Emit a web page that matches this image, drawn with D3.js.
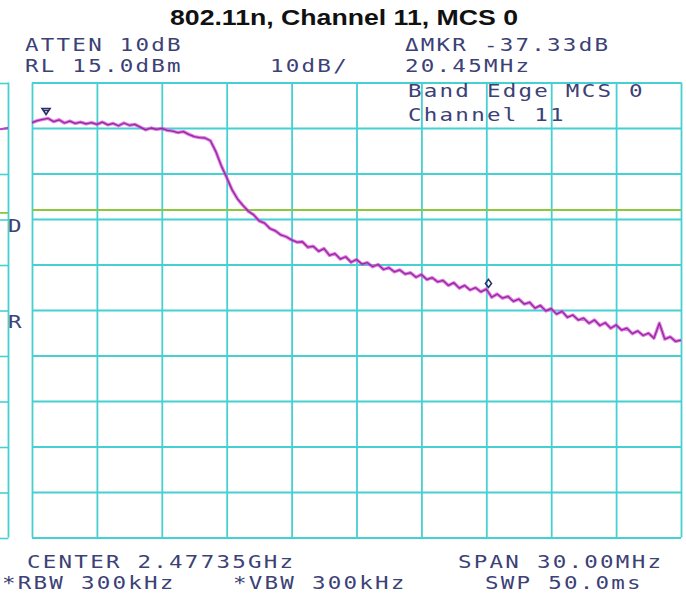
<!DOCTYPE html>
<html>
<head>
<meta charset="utf-8">
<script src="https://cdn.jsdelivr.net/npm/d3@7"></script>
<style>
  html, body { margin: 0; padding: 0; background: #ffffff; }
  svg { display: block; }
</style>
</head>
<body>
<svg id="chart" width="686" height="596"></svg>
<script>
// Spectrum analyser settings
const centerMHz = 2477.35;
const spanMHz = 30;
const refLevel = 15;        // dBm at top graticule line
const dbPerDiv = 10;
const divisions = 10;
const displayLine = -13;    // dBm

// Trace: frequency start/step (MHz) and level (dBm) per point
const traceStart = 2462.35;
const traceStep = 0.25;
const traceLevels = [
  6.2, 6.6, 6.9, 7.1, 6.4, 6.8, 6.1, 6.5, 6.0, 6.3,
  5.9, 6.2, 5.8, 6.3, 5.7, 6.0, 5.5, 6.1, 5.6, 5.8,
  5.2, 4.6, 5.0, 4.7, 4.9, 4.5, 4.3, 4.0, 4.2, 3.6,
  3.1, 2.9, 2.8, 2.2, -0.2, -3.3, -5.9, -8.6, -10.6, -12.0,
  -13.3, -14.1, -15.4, -15.9, -17.1, -17.6, -18.5, -18.9, -19.6, -20.1,
  -20.0, -21.2, -21.0, -22.1, -21.5, -23.0, -22.6, -23.8, -23.3, -24.5,
  -23.9, -24.9, -24.6, -25.5, -25.0, -26.1, -25.7, -26.6, -26.2, -27.1,
  -26.8, -27.8, -27.2, -28.3, -27.9, -28.8, -28.5, -29.6, -29.0, -30.2,
  -29.6, -30.6, -30.1, -31.0, -30.4, -32.2, -31.5, -32.4, -32.0, -33.1,
  -32.6, -33.7, -33.3, -34.6, -34.0, -35.2, -34.7, -35.9, -35.3, -36.6,
  -36.1, -37.2, -36.8, -37.9, -37.2, -38.4, -37.8, -39.0, -38.3, -39.4,
  -39.0, -40.2, -39.6, -40.6, -40.1, -41.2, -37.9, -41.4, -40.9, -41.9,
  -41.6
];

// Markers (MHz, dBm)
const markerFreqs = [2463.00, 2483.45];
const markerLevels = [7.3, -30.03];

// Tail of the neighbouring screen at the far left (dBm)
const prevTailLevels = [5.6, 5.9];

// Annotation texts
const title = "802.11n, Channel 11, MCS 0";
const headerTexts = ["ATTEN 10dB", "RL 15.0dBm", "10dB/", "\u0394MKR -37.33dB", "20.45MHz"];
const labelTexts = ["Band Edge MCS 0", "Channel 11"];
const footerTexts = ["CENTER 2.47735GHz", "SPAN 30.00MHz", "*RBW 300kHz", "*VBW 300kHz", "SWP 50.0ms"];
const sideTexts = ["D", "R"];

const svg = d3.select("#chart");
const gridColor = "#46d0d2";
const textColor = "#3c4176";

const plotL = 32, plotR = 681, plotT = 82.5, plotB = 537.5;
const x = d3.scaleLinear()
  .domain([centerMHz - spanMHz / 2, centerMHz + spanMHz / 2])
  .range([plotL, plotR]);
const y = d3.scaleLinear()
  .domain([refLevel, refLevel - dbPerDiv * divisions])
  .range([plotT, plotB]);

const freqGrid = d3.range(divisions + 1).map(i => x.domain()[0] + i * spanMHz / divisions);
const levelGrid = d3.range(divisions + 1).map(i => refLevel - i * dbPerDiv);

// Title
svg.append("text")
  .attr("x", 170).attr("y", 25)
  .attr("textLength", 348).attr("lengthAdjust", "spacingAndGlyphs")
  .style("font-family", "'Liberation Sans', Arial, sans-serif")
  .style("font-weight", "bold").style("font-size", "22px")
  .attr("fill", "#111")
  .text(title);

// Neighbouring screen strip at the far left
const strip = svg.append("g");
const xStrip = d3.scaleLinear().domain([0, prevTailLevels.length - 1]).range([0, 8]);
strip.selectAll("line.h").data(levelGrid).join("line")
  .attr("x1", 0).attr("x2", 8.5)
  .attr("y1", d => y(d) + 1).attr("y2", d => y(d) + 1)
  .attr("stroke", gridColor).attr("stroke-width", 1.6);
strip.append("line")
  .attr("x1", 0).attr("x2", 8.5)
  .attr("y1", y(displayLine) + 3).attr("y2", y(displayLine) + 3)
  .attr("stroke", "#8cc83e").attr("stroke-width", 1.8);
strip.append("line")
  .attr("x1", 8.5).attr("x2", 8.5).attr("y1", plotT).attr("y2", plotB)
  .attr("stroke", gridColor).attr("stroke-width", 1.8);
strip.append("path")
  .datum(prevTailLevels)
  .attr("d", d3.line().x((d, i) => xStrip(i)).y(d => y(d) + 4))
  .attr("fill", "none").attr("stroke", "#c040c8").attr("stroke-width", 2.2);

// Graticule
const grid = svg.append("g");
grid.append("g")
  .attr("transform", `translate(0,${plotB})`)
  .call(d3.axisBottom(x).tickValues(freqGrid).tickSizeOuter(0).tickFormat(""))
  .call(g => g.select(".domain").remove())
  .call(g => g.selectAll("line")
    .attr("y2", -(plotB - plotT)).attr("stroke", gridColor).attr("stroke-width", 1.8));
grid.append("g")
  .attr("transform", `translate(${plotL},0)`)
  .call(d3.axisLeft(y).tickValues(levelGrid).tickSizeOuter(0).tickFormat(""))
  .call(g => g.select(".domain").remove())
  .call(g => g.selectAll("line")
    .attr("x2", plotR - plotL).attr("stroke", gridColor).attr("stroke-width", 1.8));

// Display line
svg.append("line")
  .attr("x1", plotL).attr("x2", plotR)
  .attr("y1", y(displayLine)).attr("y2", y(displayLine))
  .attr("stroke", "#8cc83e").attr("stroke-width", 2);

// Trace
const traceData = traceLevels.map((v, i) => ({ f: traceStart + i * traceStep, v }));
const line = d3.line().x(d => x(d.f)).y(d => y(d.v));
svg.append("path").datum(traceData)
  .attr("d", line).attr("fill", "none")
  .attr("stroke", "#e24ae0").attr("stroke-width", 3.4).attr("stroke-opacity", 0.75)
  .attr("stroke-linejoin", "round");
svg.append("path").datum(traceData)
  .attr("d", line).attr("fill", "none")
  .attr("stroke", "#8a2f98").attr("stroke-width", 1.3)
  .attr("stroke-linejoin", "round");

// Markers
const mk = svg.append("g").attr("fill", "none").attr("stroke", "#2a2f6a").attr("stroke-width", 1.6);
mk.append("path")
  .attr("d", () => {
    const cx = x(markerFreqs[0]), cy = y(markerLevels[0]) - 3;
    return `M${cx - 4},${cy - 6}L${cx + 4},${cy - 6}L${cx},${cy}Z M${cx - 2},${cy - 4}L${cx + 2},${cy - 4}`;
  });
mk.append("path")
  .attr("d", () => {
    const cx = x(markerFreqs[1]), cy = y(markerLevels[1]) - 4;
    return `M${cx},${cy - 4}L${cx + 3},${cy}L${cx},${cy + 4}L${cx - 3},${cy}Z`;
  });

// Analyser-style text, widened monospace
const sx = 1.25;
function analyserText(str, px, baseline) {
  svg.append("text")
    .attr("transform", `scale(${sx},1)`)
    .attr("x", px / sx).attr("y", baseline)
    .style("font-family", "'DejaVu Sans Mono', monospace")
    .style("font-size", "18px")
    .style("letter-spacing", "1.8px")
    .attr("fill", textColor)
    .text(str);
}
analyserText(headerTexts[0], 25, 51);
analyserText(headerTexts[1], 25, 72);
analyserText(headerTexts[2], 270, 72);
analyserText(headerTexts[3], 405, 51);
analyserText(headerTexts[4], 405, 72);
analyserText(labelTexts[0], 408, 97);
analyserText(labelTexts[1], 408, 121);
analyserText(footerTexts[0], 27, 568);
analyserText(footerTexts[1], 458, 568);
analyserText(footerTexts[2], 2, 589);
analyserText(footerTexts[3], 233, 589);
analyserText(footerTexts[4], 485, 589);
analyserText(sideTexts[0], 8, 232);
analyserText(sideTexts[1], 8, 328);
</script>
</body>
</html>
